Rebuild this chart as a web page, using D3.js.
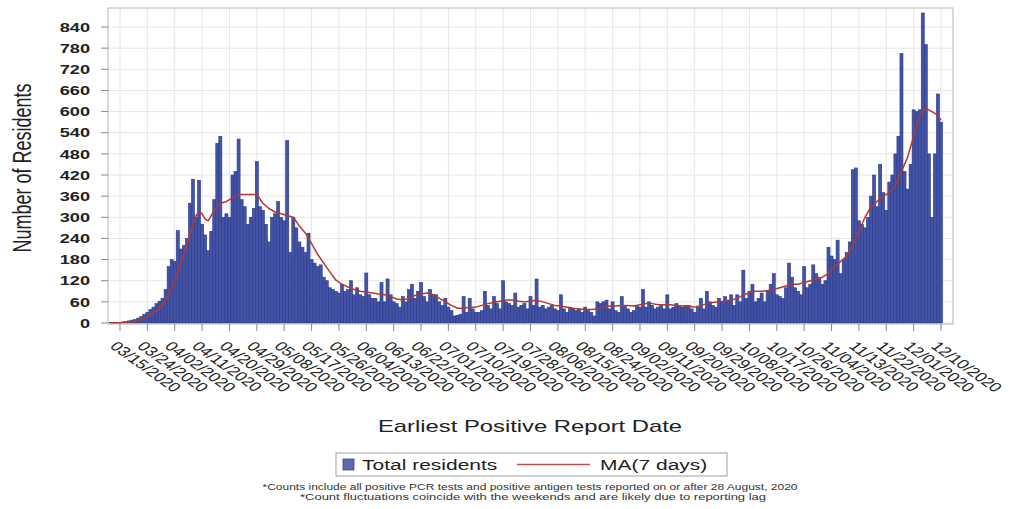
<!DOCTYPE html>
<html><head><meta charset="utf-8">
<script src="https://cdn.jsdelivr.net/npm/d3@7/dist/d3.min.js"></script>
<style>
body{margin:0;background:#fff;}
svg{display:block;font-family:"Liberation Sans",Arial,sans-serif;}
</style>
</head><body>
<svg id="chart" width="1011" height="509"></svg>
<script>
// ---------- DATA ----------
const firstDate = "03/12/2020";   // first daily bar
const totalResidents = [
  1,1,2,
  2,3,4,6,8,10,14,18,25,30,
  38,45,55,62,70,95,160,180,175,262,
  210,220,240,340,408,300,405,280,250,205,
  260,350,510,530,300,310,300,420,430,522,
  350,330,280,300,325,458,330,320,280,230,
  300,310,345,300,290,518,200,300,270,230,
  215,200,255,180,170,160,165,130,120,100,
  95,90,85,110,90,95,120,80,100,80,
  75,142,80,70,70,60,115,60,125,80,
  60,55,45,75,60,95,110,70,90,115,
  75,60,95,80,80,60,50,70,45,35,
  20,22,25,75,30,70,40,30,30,35,
  90,50,40,75,55,40,120,60,55,50,
  85,45,50,55,40,75,50,125,45,50,
  40,45,50,40,35,80,40,30,45,40,
  35,40,30,45,35,30,20,60,55,60,
  65,40,60,35,30,75,50,40,30,35,
  50,45,95,45,60,50,40,45,50,40,
  80,40,45,55,50,45,50,50,40,30,
  45,70,40,90,60,50,45,70,60,75,
  65,80,50,80,60,150,70,90,110,60,
  70,85,60,90,110,140,80,75,70,100,
  170,130,100,90,80,160,100,110,165,140,
  130,110,120,215,190,180,235,140,180,200,
  230,435,440,290,280,270,300,360,420,330,
  450,370,320,400,420,480,530,765,430,380,
  450,605,600,605,880,790,480,300,480,650,570
];
// 7-day moving average (day offset from 03/15/2020, value)
const maDayOffsets = [-3,0,3,6,9,12,14,16,18,20,22,24,25,26,27,28,29,30,31,33,35,37,39,41,43,45,47,49,51,53,55,57,59,61,63,65,67,69,71,73,75,77,79,81,83,85,87,89,91,93,95,97,99,101,103,105,107,109,111,113,115,117,119,121,123,125,127,129,131,133,135,137,139,141,143,145,147,149,151,153,155,157,159,161,163,165,167,169,171,173,175,177,179,181,183,185,187,189,191,193,195,197,199,201,203,205,207,209,211,213,215,217,219,221,223,225,227,229,231,233,235,237,239,241,243,245,247,249,251,253,255,257,259,261,263,265,267,269,270];
const maValues = [0,1,3,8,18,35,50,80,120,170,220,280,305,315,310,295,290,305,320,340,345,355,365,365,365,365,340,325,315,310,305,300,275,255,225,195,170,145,122,110,102,95,90,88,85,82,80,75,68,65,70,78,82,85,80,70,60,50,42,42,45,45,50,55,58,62,65,65,62,60,62,65,60,55,50,48,45,42,40,38,38,40,45,48,48,50,50,48,52,55,55,52,52,52,50,48,48,45,50,55,58,60,62,65,70,80,85,90,90,92,95,100,105,110,110,115,120,125,130,140,160,175,190,220,260,300,330,345,360,370,390,430,470,530,590,610,600,590,575];
const xTickLabels = ["03/15/2020","03/24/2020","04/02/2020","04/11/2020","04/20/2020","04/29/2020","05/08/2020","05/17/2020","05/26/2020","06/04/2020","06/13/2020","06/22/2020","07/01/2020","07/10/2020","07/19/2020","07/28/2020","08/06/2020","08/15/2020","08/24/2020","09/02/2020","09/11/2020","09/20/2020","09/29/2020","10/08/2020","10/17/2020","10/26/2020","11/04/2020","11/13/2020","11/22/2020","12/01/2020","12/10/2020"];
const yTickValues = [0,60,120,180,240,300,360,420,480,540,600,660,720,780,840];
const yTitle = "Number of Residents";
const xTitle = "Earliest Positive Report Date";
const legendLabels = ["Total residents","MA(7 days)"];
const footnotes = [
  "*Counts include all positive PCR tests and positive antigen tests reported on or after 28 August, 2020",
  "*Count fluctuations coincide with the weekends and are likely due to reporting lag"
];

// ---------- LAYOUT ----------
const SX = 1.4; // horizontal stretch of the reference image
const frame = {left:108, right:953, top:8, bottom:324};
const parse = d3.timeParse("%m/%d/%Y");
const base = parse(xTickLabels[0]);
const start = parse(firstDate);
const dates = totalResidents.map((v,i)=>d3.timeDay.offset(start,i));
const data = totalResidents.map((v,i)=>({date:dates[i], v}));
const maData = maValues.map((v,i)=>({date:d3.timeDay.offset(base, maDayOffsets[i]), v}));

const x = d3.scaleTime()
  .domain([base, parse(xTickLabels[xTickLabels.length-1])])
  .range([120, 941]);
const y = d3.scaleLinear().domain([0, 894]).range([323, frame.top]);
const bw = x(d3.timeDay.offset(base,1)) - x(base);
const tickDates = xTickLabels.map(parse);

const svg = d3.select("#chart");

// grid
const grid = svg.append("g");
grid.selectAll("line.h").data(yTickValues).join("line")
  .attr("x1",frame.left).attr("x2",frame.right)
  .attr("y1",d=>y(d)).attr("y2",d=>y(d))
  .attr("stroke","#e6e6e6").attr("stroke-width",1);
grid.selectAll("line.v").data(tickDates).join("line")
  .attr("x1",d=>x(d)).attr("x2",d=>x(d))
  .attr("y1",frame.top).attr("y2",frame.bottom)
  .attr("stroke","#e6e6e6").attr("stroke-width",1);

// bars
svg.append("g").selectAll("rect").data(data).join("rect")
  .attr("x",d=>x(d.date)-bw/2)
  .attr("width",bw)
  .attr("y",d=>y(d.v))
  .attr("height",d=>y(0)-y(d.v))
  .attr("fill","#4354a8")
  .attr("stroke","#2a3784")
  .attr("stroke-width",0.6);

// moving average line
svg.append("path").datum(maData)
  .attr("fill","none")
  .attr("stroke","#b03a2e")
  .attr("stroke-width",1.5)
  .attr("stroke-linejoin","round")
  .attr("d", d3.line().x(d=>x(d.date)).y(d=>y(d.v)));

// frame
svg.append("rect")
  .attr("x",frame.left).attr("y",frame.top)
  .attr("width",frame.right-frame.left).attr("height",frame.bottom-frame.top)
  .attr("fill","none").attr("stroke","#b5b5b5").attr("stroke-width",1);

// y axis ticks & labels
const yax = svg.append("g");
yax.selectAll("line").data(yTickValues).join("line")
  .attr("x1",101).attr("x2",frame.left)
  .attr("y1",d=>y(d)).attr("y2",d=>y(d))
  .attr("stroke","#888");
yax.selectAll("text").data(yTickValues).join("text")
  .attr("transform",d=>`translate(90,${y(d)}) scale(${SX},1)`)
  .attr("text-anchor","end").attr("dy","0.36em")
  .attr("font-size",13).attr("font-weight","bold").attr("fill","#222")
  .text(d=>d);

// y title
svg.append("text")
  .attr("transform",`translate(22,168) scale(${SX},1) rotate(-90)`)
  .attr("text-anchor","middle").attr("dy","0.35em")
  .attr("font-size",18).attr("fill","#222")
  .text(yTitle);

// x ticks & labels
const xax = svg.append("g");
xax.selectAll("line").data(tickDates).join("line")
  .attr("x1",d=>x(d)).attr("x2",d=>x(d))
  .attr("y1",frame.bottom).attr("y2",frame.bottom+7)
  .attr("stroke","#888");
xax.selectAll("text").data(xTickLabels).join("text")
  .attr("transform",d=>`translate(${x(parse(d))-11},347) scale(${SX},1) rotate(45)`)
  .attr("text-anchor","start")
  .attr("font-size",13).attr("fill","#222")
  .text(d=>d);

// x title
svg.append("text")
  .attr("transform",`translate(530,432) scale(${SX},1)`)
  .attr("text-anchor","middle")
  .attr("font-size",17).attr("fill","#222")
  .text(xTitle);

// legend
const lg = svg.append("g");
lg.append("rect").attr("x",336).attr("y",453).attr("width",391).attr("height",23)
  .attr("fill","#fff").attr("stroke","#a0a0a0");
lg.append("rect").attr("x",343).attr("y",459).attr("width",11).attr("height",11)
  .attr("fill","#5d6ab3").attr("stroke","#3a4690").attr("stroke-width",0.8);
lg.append("text").attr("transform",`translate(362,470) scale(${SX},1)`)
  .attr("font-size",15).attr("fill","#222").text(legendLabels[0]);
lg.append("line").attr("x1",517).attr("x2",590).attr("y1",464.5).attr("y2",464.5)
  .attr("stroke","#c0504d").attr("stroke-width",1.5);
lg.append("text").attr("transform",`translate(600,470) scale(${SX},1)`)
  .attr("font-size",15).attr("fill","#222").text(legendLabels[1]);

// footnotes
const fnW = [535, 466];
const fnX = [530, 533];
svg.append("g").selectAll("text").data(footnotes).join("text")
  .attr("x",(d,i)=>fnX[i]).attr("y",(d,i)=>490+i*10)
  .attr("text-anchor","middle")
  .attr("font-size",9).attr("fill","#333")
  .attr("textLength",(d,i)=>fnW[i]).attr("lengthAdjust","spacingAndGlyphs")
  .text(d=>d);
</script>
</body></html>
